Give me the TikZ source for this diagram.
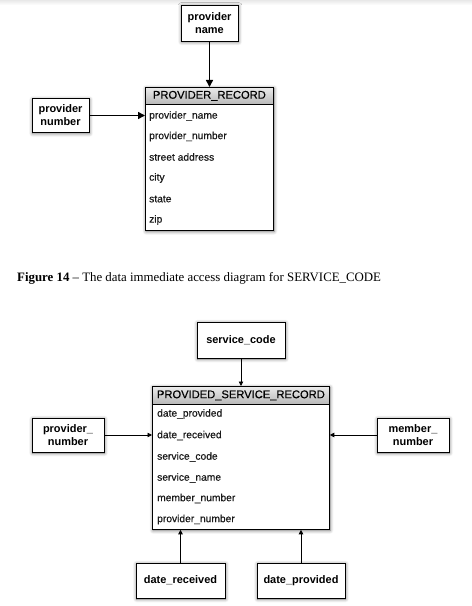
\documentclass[tikz,border=0pt]{standalone}
\usepackage{fontspec}
\setmainfont{Liberation Serif}
\newfontfamily\arialfont{Liberation Sans}
\newfontfamily\arialmed[FakeBold=0.5]{Liberation Sans}
\usetikzlibrary{shadows.blur, arrows.meta}
\tikzset{
  shad/.style={blur shadow={shadow blur steps=6, shadow xshift=0.6bp, shadow yshift=-1bp, shadow opacity=55, shadow blur radius=3.5bp}},
  attr/.style={draw=black, line width=0.9bp, fill=white, shad, align=center, inner sep=0pt,
    font=\arialfont\bfseries\fontsize{11}{13}\selectfont},
  tbl/.style={draw=black, line width=0.8bp, fill=white, shad, inner sep=0pt, anchor=north west},
  hdr/.style={draw=black, line width=0.8bp, top color=black!8, bottom color=black!28, inner sep=0pt, anchor=north west},
  htext/.style={font=\arialmed\fontsize{11.2}{12}\selectfont, inner sep=0pt},
  rowtext/.style={font=\arialmed\fontsize{10.3}{12}\selectfont, text=black!90, anchor=west, inner sep=0pt},
  bigarrow/.style={-{Triangle[length=7bp,width=7bp]}, line width=1.5bp},
  smallarrow/.style={-{Triangle[length=4.5bp,width=4.5bp]}, line width=0.8bp},
}
\begin{document}
\begin{tikzpicture}[x=1bp, y=-1bp]
\useasboundingbox (0,0) rectangle (472,606);
\shade[top color=black!9, bottom color=white, draw=none] (0,0) rectangle (472,5);

% ---------- top diagram ----------
\node[tbl, minimum width=128bp, minimum height=143bp] (pr) at (145,87) {};
\node[hdr, minimum width=128bp, minimum height=17bp] (prh) at (145,87) {};
\node[htext] (prht) at (prh.center) {PROVIDER\_RECORD};
\node[rowtext] (pr1) at (149,116) {provider\_name};
\node[rowtext] (pr2) at (149,136.5) {provider\_number};
\node[rowtext] (pr3) at (149,157) {street address};
\node[rowtext] (pr4) at (149,178) {city};
\node[rowtext] (pr5) at (149,199) {state};
\node[rowtext] (pr6) at (149,220) {zip};

\node[attr, minimum width=57bp, minimum height=36bp] (pname) at (209.5,23) {provider\\name};
\node[attr, minimum width=57bp, minimum height=34bp] (pnum) at (60.5,115.5) {provider\\number};

\draw[bigarrow] (pname.south) -- (pname.south |- prh.north);
\draw[bigarrow] (pnum.east) -- (pnum.east -| pr.west);

% ---------- caption ----------
\node[anchor=base west, inner sep=0pt, font=\fontsize{12.9}{15}\selectfont] (cap) at (17,281)
  {\textbf{Figure 14} – The data immediate access diagram for SERVICE\_CODE};

% ---------- bottom diagram ----------
\node[tbl, minimum width=177bp, minimum height=143bp] (psr) at (152,386) {};
\node[hdr, minimum width=177bp, minimum height=18bp] (psrh) at (152,386) {};
\node[htext] (psrht) at (psrh.center) {PROVIDED\_SERVICE\_RECORD};
\node[rowtext] (ps1) at (157,414) {date\_provided};
\node[rowtext] (ps2) at (157,435.5) {date\_received};
\node[rowtext] (ps3) at (157,457) {service\_code};
\node[rowtext] (ps4) at (157,478) {service\_name};
\node[rowtext] (ps5) at (157,498.5) {member\_number};
\node[rowtext] (ps6) at (157,519.5) {provider\_number};

\node[attr, minimum width=88bp, minimum height=36bp] (scode) at (241,340) {service\_code};
\node[attr, minimum width=72bp, minimum height=34bp] (pnum2) at (68,435) {provider\_\\number};
\node[attr, minimum width=72bp, minimum height=34bp] (mnum) at (413,435) {member\_\\number};
\node[attr, minimum width=89bp, minimum height=35bp] (drec) at (180.5,580.5) {date\_received};
\node[attr, minimum width=88bp, minimum height=35bp] (dprov) at (301,580.5) {date\_provided};

\draw[smallarrow] (scode.south) -- (scode.south |- psrh.north);
\draw[smallarrow] (pnum2.east) -- (pnum2.east -| psr.west);
\draw[smallarrow] (mnum.west) -- (mnum.west -| psr.east);
\draw[smallarrow] (drec.north) -- (drec.north |- psr.south);
\draw[smallarrow] (dprov.north) -- (dprov.north |- psr.south);
\end{tikzpicture}
\end{document}
